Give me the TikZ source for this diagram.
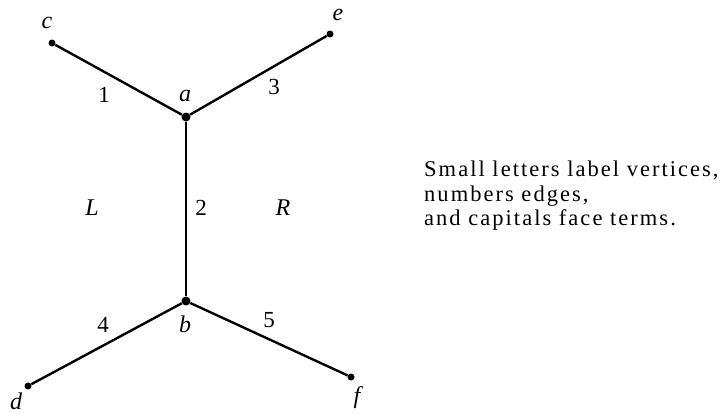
\documentclass[tikz,border=0pt]{standalone}
\usepackage{fontspec}
\setmainfont{Liberation Serif}
\begin{document}
\begin{tikzpicture}[x=1pt,y=-1pt,
  edge/.style={line width=2.4pt},
  vtx/.style={circle,fill=black,inner sep=0pt,minimum size=7pt},
  bigvtx/.style={circle,fill=black,inner sep=0pt,minimum size=9pt},
  vlab/.style={font=\fontsize{24}{28}\selectfont\itshape,inner sep=0pt},
  elab/.style={font=\fontsize{23}{28}\selectfont,inner sep=0pt},
  note/.style={font=\fontsize{22.5}{28}\selectfont\addfontfeatures{LetterSpace=9},inner sep=0pt,anchor=base west}]
\path[use as bounding box] (0,0) rectangle (728,413);
\node[vtx] (c) at (52,43) {};
\node[vtx] (e) at (330,34) {};
\node[bigvtx] (a) at (186,117) {};
\node[bigvtx] (b) at (186,301) {};
\node[vtx] (d) at (28,386) {};
\node[vtx] (f) at (351,377) {};
\draw[edge] (c) -- (a);
\draw[edge] (a) -- (e);
\draw[edge] (a) -- (b);
\draw[edge] (b) -- (d);
\draw[edge] (b) -- (f);
\node[vlab] (lc) at (47,23) {c};
\node[vlab] (le) at (338,15) {e};
\node[vlab] (la) at (185,96) {a};
\node[vlab] (lb) at (185,324) {b};
\node[vlab] (ld) at (16,401) {d};
\node[vlab] (lf) at (357,398) {f};
\node[elab] (n1) at (104,95) {1};
\node[elab] (n3) at (274,87) {3};
\node[elab] (n2) at (201,208) {2};
\node[elab] (n4) at (103,325) {4};
\node[elab] (n5) at (269,320) {5};
\node[vlab] (L) at (92,208) {L};
\node[vlab] (R) at (283,208) {R};
\node[note] (t1) at (424,176) {Small letters label vertices,};
\node[note] (t2) at (424,201) {numbers edges,};
\node[note] (t3) at (424,225) {and capitals face terms.};
\end{tikzpicture}
\end{document}
